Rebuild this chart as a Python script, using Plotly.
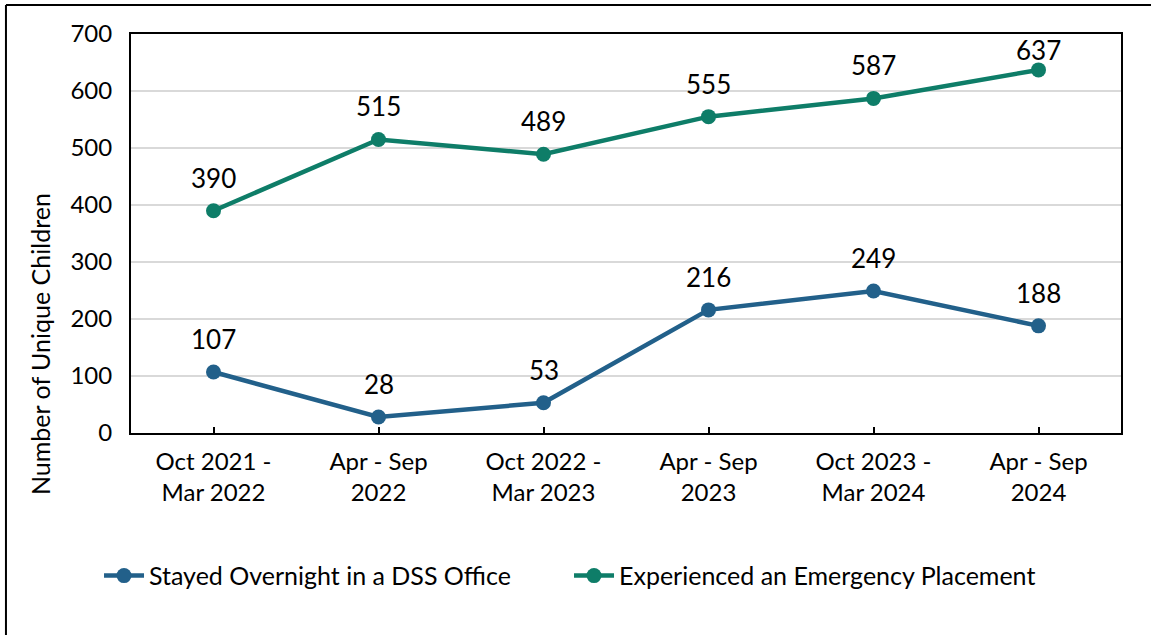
import plotly.graph_objects as go

categories = ["Oct 2021 -<br>Mar 2022", "Apr - Sep<br>2022", "Oct 2022 -<br>Mar 2023",
              "Apr - Sep<br>2023", "Oct 2023 -<br>Mar 2024", "Apr - Sep<br>2024"]
stayed_overnight = [107, 28, 53, 216, 249, 188]
emergency_placement = [390, 515, 489, 555, 587, 637]
y_max = 700

BLUE = "#22608A"
GREEN = "#0E7D68"
FONT = "Lato"

PLOT_H = 399  # px height of plot area
fig = go.Figure()
fig.add_trace(go.Scatter(x=categories, y=stayed_overnight, mode="lines+markers",
                         name="Stayed Overnight in a DSS Office",
                         line=dict(color=BLUE, width=4.5), marker=dict(size=15, color=BLUE)))
fig.add_trace(go.Scatter(x=categories, y=emergency_placement, mode="lines+markers",
                         name="Experienced an Emergency Placement",
                         line=dict(color=GREEN, width=4.5), marker=dict(size=15, color=GREEN)))

for series in (stayed_overnight, emergency_placement):
    for c, v in zip(categories, series):
        room = (y_max - v) * PLOT_H / y_max - 16
        fig.add_annotation(x=c, y=v, text=str(v), showarrow=False, yshift=min(33, room),
                           font=dict(family=FONT, size=26, color="black"))

fig.add_annotation(xref="paper", yref="paper", x=-0.0919, y=0.223, text="Number of Unique Children",
                   textangle=-90, showarrow=False, xanchor="center", yanchor="middle",
                   font=dict(family=FONT, size=25, color="black"))

fig.update_layout(
    width=1151, height=635,
    margin=dict(l=131, r=30, t=34, b=202),
    paper_bgcolor="white", plot_bgcolor="white",
    font=dict(family=FONT, size=24, color="black"),
    showlegend=True,
    legend=dict(orientation="h", x=-0.0323, xanchor="left", y=-0.358, yanchor="middle",
                font=dict(family=FONT, size=25, color="black"), itemwidth=40,
                entrywidth=415, traceorder="normal"),
    xaxis=dict(type="category", range=[-0.5, 5.5], showgrid=False,
               showline=True, linecolor="black", linewidth=2, mirror=True,
               ticks="inside", ticklen=6, tickcolor="black", tickwidth=2,
               ticklabelstandoff=6,
               tickfont=dict(family=FONT, size=24, color="black")),
    yaxis=dict(range=[0, y_max], dtick=100, showgrid=True, gridcolor="#D9D9D9", gridwidth=2,
               showline=True, linecolor="black", linewidth=2, mirror=True,
               ticks="", zeroline=False, ticklabelstandoff=12,
               tickfont=dict(family=FONT, size=24, color="black")),
    shapes=[
        dict(type="line", xref="paper", yref="paper", x0=-0.1263, x1=1.04, y0=1.0727, y1=1.0727,
             line=dict(color="black", width=2)),
        dict(type="line", xref="paper", yref="paper", x0=-0.1263, x1=-0.1263, y0=1.0727, y1=-0.52,
             line=dict(color="black", width=2)),
    ],
)

fig.write_html("out.html", config={"displayModeBar": False},
               post_script="document.body.style.margin='0';")
